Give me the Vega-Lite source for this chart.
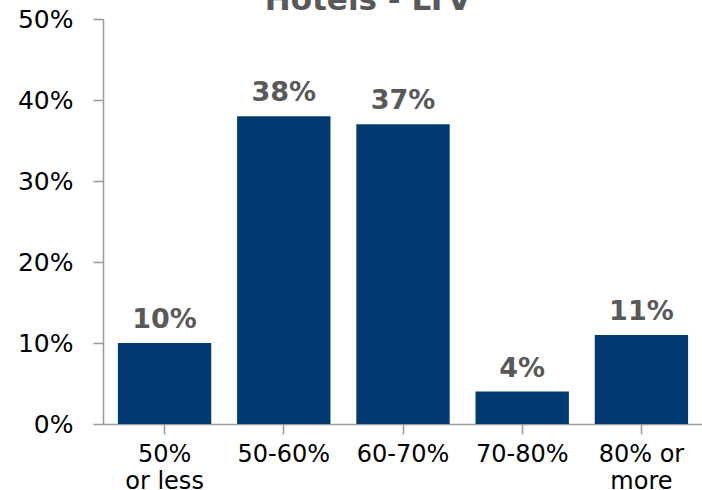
{
  "$schema": "https://vega.github.io/schema/vega-lite/v6.json",
  "autosize": {"type": "none"},
  "width": 600,
  "height": 405,
  "padding": {"left": 103, "top": 19, "right": 0, "bottom": 66},
  "background": "white",
  "data": {
    "values": [
      {"ltv": "50% or less", "share": 0.10},
      {"ltv": "50-60%", "share": 0.38},
      {"ltv": "60-70%", "share": 0.37},
      {"ltv": "70-80%", "share": 0.04},
      {"ltv": "80% or more", "share": 0.11}
    ]
  },
  "encoding": {
    "x": {
      "field": "ltv",
      "type": "nominal",
      "sort": null,
      "scale": {"paddingInner": 0.217, "paddingOuter": 0.125},
      "axis": {
        "title": null,
        "labelAngle": 0,
        "labelFont": "DejaVu Sans",
        "labelFontSize": 24,
        "labelColor": "#000000",
        "labelLineHeight": 27,
        "labelPadding": 8,
        "labelDx": 5,
        "labelExpr": "datum.value == '50% or less' ? ['50%', 'or less'] : datum.value == '80% or more' ? ['80% or', 'more'] : datum.value",
        "domainColor": "#9a9a9a",
        "domainWidth": 1.5,
        "tickColor": "#9a9a9a",
        "tickSize": 10,
        "tickWidth": 1.5
      }
    },
    "y": {
      "field": "share",
      "type": "quantitative",
      "scale": {"domain": [0, 0.5]},
      "axis": {
        "title": null,
        "format": ".0%",
        "values": [0, 0.1, 0.2, 0.3, 0.4, 0.5],
        "grid": false,
        "labelFont": "DejaVu Sans",
        "labelFontSize": 25,
        "labelColor": "#000000",
        "labelPadding": 20,
        "domainColor": "#9a9a9a",
        "domainWidth": 1.5,
        "tickColor": "#9a9a9a",
        "tickSize": 10,
        "tickWidth": 1.5
      }
    }
  },
  "layer": [
    {"mark": {"type": "bar", "color": "#003a70"}},
    {
      "mark": {
        "type": "text",
        "font": "DejaVu Sans",
        "fontSize": 27,
        "fontWeight": "bold",
        "color": "#595959",
        "baseline": "alphabetic",
        "dy": -15
      },
      "encoding": {"text": {"field": "share", "type": "quantitative", "format": ".0%"}}
    },
    {
      "data": {"values": [{"title": "Hotels - LTV", "ltv": "60-70%", "share": 0.5}]},
      "mark": {
        "type": "text",
        "font": "DejaVu Sans",
        "fontSize": 31,
        "fontWeight": "bold",
        "color": "#595959",
        "baseline": "alphabetic",
        "align": "center",
        "dx": -35,
        "dy": -9
      },
      "encoding": {"text": {"field": "title", "type": "nominal"}}
    }
  ],
  "config": {"view": {"stroke": null}}
}
